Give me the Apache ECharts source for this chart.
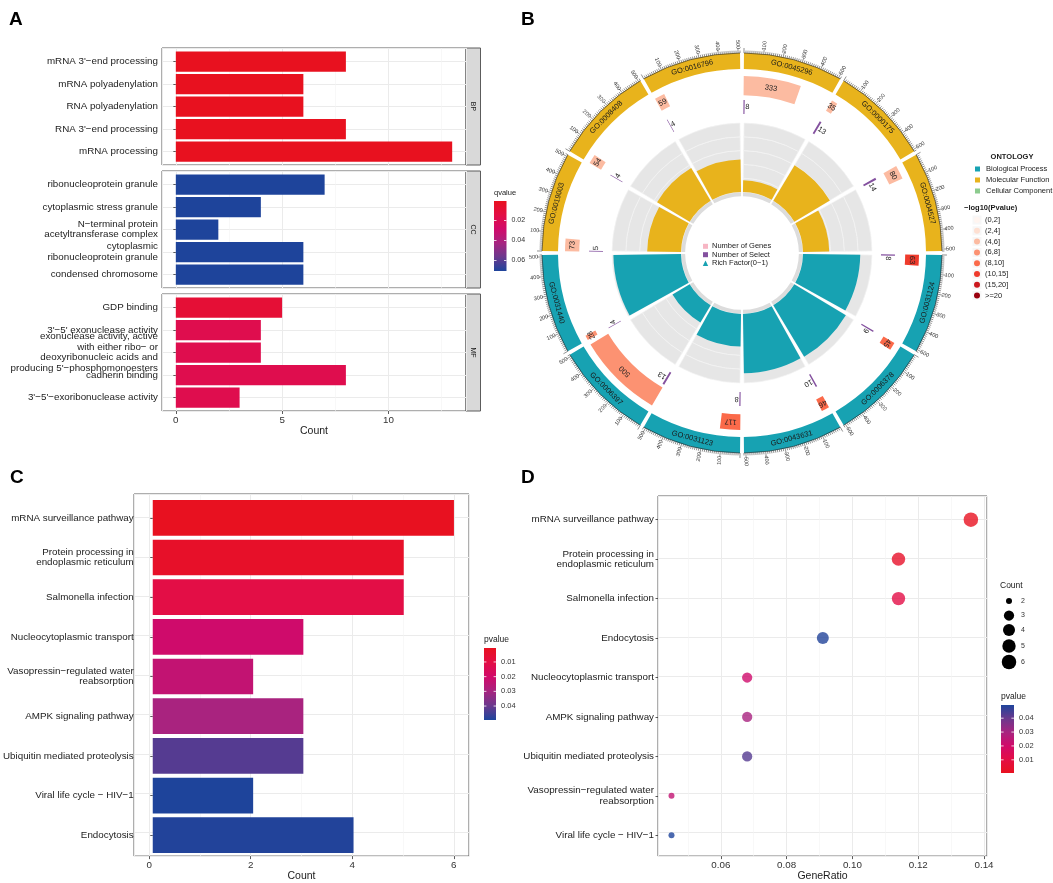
<!DOCTYPE html>
<html>
<head>
<meta charset="utf-8">
<title>Enrichment panels</title>
<script src="https://cdn.jsdelivr.net/npm/echarts@6.0.0/dist/echarts.min.js"></script>
<style>
html,body{margin:0;padding:0;background:#ffffff;}
#chart{width:1053px;height:883px;}
</style>
</head>
<body>
<div id="chart"></div>
<script>
// ================= DATA =================
// ---- Panel A (GO bar chart, faceted) ----
const aFacetNames = ["BP", "CC", "MF"];
const aBPTerms = ["mRNA 3'−end processing", "mRNA polyadenylation", "RNA polyadenylation", "RNA 3'−end processing", "mRNA processing"];
const aBPCounts = [8, 6, 6, 8, 13];
const aBPQvalues = [0.0006, 0.0006, 0.0006, 0.0006, 0.0005];
const aCCTerms = ["ribonucleoprotein granule", "cytoplasmic stress granule", "N−terminal protein\nacetyltransferase complex", "cytoplasmic\nribonucleoprotein granule", "condensed chromosome"];
const aCCCounts = [7, 4, 2, 6, 6];
const aCCQvalues = [0.0705, 0.0705, 0.0705, 0.0705, 0.0705];
const aMFTerms = ["GDP binding", "3'−5' exonuclease activity", "exonuclease activity, active\nwith either ribo− or\ndeoxyribonucleic acids and\nproducing 5'−phosphomonoesters", "cadherin binding", "3'−5'−exoribonuclease activity"];
const aMFCounts = [5, 4, 4, 8, 3];
const aMFQvalues = [0.009, 0.018, 0.018, 0.018, 0.018];
const aQRange = [0.0005, 0.0705];
const aQTicks = [0.02, 0.04, 0.06];

// ---- Panel B (GO circle) ---- clockwise from 12 o'clock
const bGoIds = ["GO:0045296", "GO:0000175", "GO:0004527", "GO:0031124", "GO:0006378", "GO:0043631", "GO:0031123", "GO:0006397", "GO:0031440", "GO:0019003", "GO:0008408", "GO:0016796"];
const bOntology = ["MF", "MF", "MF", "BP", "BP", "BP", "BP", "BP", "BP", "MF", "MF", "MF"];
const bNumGenes = [333, 35, 80, 63, 45, 46, 117, 500, 28, 73, 54, 59];
const bNumSelect = [8, 13, 14, 8, 9, 10, 8, 13, 4, 5, 4, 4];
const bRichFactor = [0.17, 0.60, 0.38, 0.83, 0.87, 0.86, 0.47, 0.29, 0.98, 0.49, 0.55, 0.47];
const bPBin = [2, 2, 2, 5, 4, 4, 4, 3, 3, 2, 2, 2];
const bTickLabels = [100, 200, 300, 400, 500];
const bOntologyNames = ["Biological Process", "Molecular Function", "Cellular Component"];
const bPBinNames = ["(0,2]", "(2,4]", "(4,6]", "(6,8]", "(8,10]", "(10,15]", "(15,20]", ">=20"];
const bInnerLegend = ["Number of Genes", "Number of Select", "Rich Factor(0−1)"];

// ---- Panel C (KEGG bar chart) ----
const cTerms = ["mRNA surveillance pathway", "Protein processing in\nendoplasmic reticulum", "Salmonella infection", "Nucleocytoplasmic transport", "Vasopressin−regulated water\nreabsorption", "AMPK signaling pathway", "Ubiquitin mediated proteolysis", "Viral life cycle − HIV−1", "Endocytosis"];
const cCounts = [6, 5, 5, 3, 2, 3, 3, 2, 4];
const cPvalues = [0.0008, 0.003, 0.0105, 0.0205, 0.0235, 0.0295, 0.0425, 0.0495, 0.049];
const cPTicks = [0.01, 0.02, 0.03, 0.04];

// ---- Panel D (KEGG dot plot) ----
const dTerms = ["mRNA surveillance pathway", "Protein processing in\nendoplasmic reticulum", "Salmonella infection", "Endocytosis", "Nucleocytoplasmic transport", "AMPK signaling pathway", "Ubiquitin mediated proteolysis", "Vasopressin−regulated water\nreabsorption", "Viral life cycle − HIV−1"];
const dGeneRatio = [0.136, 0.114, 0.114, 0.091, 0.068, 0.068, 0.068, 0.045, 0.045];
const dCounts = [6, 5, 5, 4, 3, 3, 3, 2, 2];
const dPvalues = [0.0008, 0.003, 0.0105, 0.049, 0.0205, 0.0295, 0.0425, 0.0235, 0.0495];
const dCountLegend = [2, 3, 4, 5, 6];
const pRange = [0.0005, 0.0495];

// ================= STYLE =================
const FF = "'Liberation Sans', Arial, Helvetica, sans-serif";
const gradColors = ['#E8111F', '#E30E45', '#D10A6A', '#A72480', '#6B388D', '#1E449B'];
const ontColors = { BP: '#17A2B2', MF: '#E8B31C', CC: '#8CCB8E' };
const ontLegendColors = [ontColors.BP, ontColors.MF, ontColors.CC];
const pBinColors = ['#FFF5F0', '#FEE0D2', '#FCBBA1', '#FC9272', '#FB6A4A', '#EF3B2C', '#CB181D', '#99000D'];
const selectColor = '#84519F';
const genesLegendColor = '#F7B6C4';

const chart = echarts.init(document.getElementById('chart'), null, { renderer: 'canvas', width: 1053, height: 883 });

const grids = [], xAxis = [], yAxis = [], series = [], visualMap = [], graphics = [];

function txtG(x, y, text, size, opts) {
  opts = opts || {};
  const align = opts.align || 'left';
  const va = opts.va || 'middle';
  return {
    type: 'text', x: x, y: y, rotation: opts.rot || 0, silent: true,
    style: {
      text: text, font: (opts.bold ? 'bold ' : '') + size + 'px ' + FF, fill: opts.color || '#1a1a1a',
      align: align, textAlign: align, verticalAlign: va, textVerticalAlign: va
    }
  };
}

// ---- generic ggplot-like panel: frame grid (border + gridlines + x axis) and data grid (categories) ----
function addPanel(o) {
  const n = o.cats.length;
  const gf = grids.length;
  grids.push({ left: o.left, top: o.top, width: o.width, height: o.height, show: true, borderColor: '#5c5c5c', borderWidth: 1, backgroundColor: 'rgba(0,0,0,0)' });
  xAxis.push({
    gridIndex: gf, type: 'value', position: 'top', min: o.xMin, max: o.xMax, minInterval: o.minor, maxInterval: o.minor,
    axisLine: { show: false }, axisTick: { show: false }, axisLabel: { show: false },
    splitLine: { show: true, lineStyle: { color: '#F3F3F3', width: 0.6 } }
  });
  xAxis.push({
    gridIndex: gf, type: 'value', position: 'bottom', min: o.xMin, max: o.xMax, minInterval: o.major, maxInterval: o.major,
    axisLine: { show: false },
    axisTick: { show: o.showX, length: 3, lineStyle: { color: '#333', width: 0.8 } },
    axisLabel: { show: o.showX, showMinLabel: false, showMaxLabel: false, margin: 4, fontSize: o.fs, fontFamily: FF, color: '#333', formatter: o.fmt },
    splitLine: { show: true, lineStyle: { color: '#EBEBEB', width: 1 } },
    name: o.showX ? o.xName : '', nameLocation: 'middle', nameGap: o.nameGap || 14,
    nameTextStyle: { fontSize: o.nameFs || 10.5, fontFamily: FF, color: '#1a1a1a' }
  });
  yAxis.push({
    gridIndex: gf, type: 'value', inverse: true, min: 0.4, max: n + 0.6, minInterval: 1, maxInterval: 1,
    axisLine: { show: false }, axisTick: { show: false }, axisLabel: { show: false },
    splitLine: { show: true, lineStyle: { color: '#EBEBEB', width: 1 } }
  });
  const unit = o.height / (n + 0.2), pad = unit * 0.1;
  const gd = grids.length;
  grids.push({ left: o.left, top: o.top + pad, width: o.width, height: o.height - 2 * pad, show: false });
  const xd = xAxis.length;
  xAxis.push({ gridIndex: gd, type: 'value', min: o.xMin, max: o.xMax, show: false });
  const yd = yAxis.length;
  yAxis.push({
    gridIndex: gd, type: 'category', inverse: true, data: o.cats,
    axisLine: { show: false },
    axisTick: { show: true, alignWithLabel: true, length: 2.5, lineStyle: { color: '#333', width: 0.8 } },
    axisLabel: { interval: 0, margin: 4, fontSize: o.fs, lineHeight: o.lh || 10.5, fontFamily: FF, color: '#222' },
    splitLine: { show: false }
  });
  return { xd: xd, yd: yd };
}

// ================= PANEL A =================
const aLeft = 162, aWidth = 304;
const aFacetTops = [48, 171, 294];
const aFacetH = 117;
const aFacetTerms = [aBPTerms, aCCTerms, aMFTerms];
const aFacetCounts = [aBPCounts, aCCCounts, aMFCounts];
const aFacetQ = [aBPQvalues, aCCQvalues, aMFQvalues];
const aSeriesIdx = [];
aFacetNames.forEach(function (name, f) {
  const ax = addPanel({
    left: aLeft, top: aFacetTops[f], width: aWidth, height: aFacetH, xMin: -0.65, xMax: 13.65, major: 5, minor: 2.5,
    cats: aFacetTerms[f], showX: f === 2, xName: 'Count', nameGap: 15, fs: 9.8, lh: 10.5
  });
  aSeriesIdx.push(series.length);
  series.push({
    type: 'bar', xAxisIndex: ax.xd, yAxisIndex: ax.yd, barWidth: '90%', silent: true,
    encode: { x: 0, y: 1 },
    data: aFacetCounts[f].map(function (c, i) { return [c, i, aFacetQ[f][i]]; })
  });
  // facet strip
  graphics.push({ type: 'rect', shape: { x: aLeft + aWidth, y: aFacetTops[f], width: 14.5, height: aFacetH }, style: { fill: '#D9D9D9', stroke: '#5c5c5c', lineWidth: 1 }, silent: true });
  graphics.push(txtG(aLeft + aWidth + 7.25, aFacetTops[f] + aFacetH / 2, name, 7, { align: 'center', rot: -Math.PI / 2 }));
});
visualMap.push({ type: 'continuous', show: false, seriesIndex: aSeriesIdx, dimension: 2, min: aQRange[0], max: aQRange[1], inRange: { color: gradColors } });

// colorbar legend helper
function colorbar(x, y, w, h, title, range, ticks, highOnTop, fs, titleFs) {
  const n = gradColors.length;
  let stops = gradColors.map(function (c, i) { return { offset: i / (n - 1), color: c }; });
  if (highOnTop) stops = gradColors.slice().reverse().map(function (c, i) { return { offset: i / (n - 1), color: c }; });
  graphics.push(txtG(x, y - 4, title, titleFs, { va: 'bottom', color: '#1a1a1a' }));
  graphics.push({ type: 'rect', shape: { x: x, y: y, width: w, height: h }, style: { fill: { type: 'linear', x: 0, y: 0, x2: 0, y2: 1, colorStops: stops } }, silent: true });
  ticks.forEach(function (v) {
    const frac = (v - range[0]) / (range[1] - range[0]);
    const ty = highOnTop ? y + (1 - frac) * h : y + frac * h;
    graphics.push({ type: 'line', shape: { x1: x, y1: ty, x2: x + w * 0.2, y2: ty }, style: { stroke: '#ffffff', lineWidth: 0.8 }, silent: true });
    graphics.push({ type: 'line', shape: { x1: x + w * 0.8, y1: ty, x2: x + w, y2: ty }, style: { stroke: '#ffffff', lineWidth: 0.8 }, silent: true });
    graphics.push(txtG(x + w + 5, ty, String(v), fs, { color: '#333' }));
  });
}
colorbar(494, 201, 12.5, 70, 'qvalue', aQRange, aQTicks, false, 7, 7.5);

// ================= PANEL C =================
const cAx = addPanel({
  left: 134, top: 494, width: 335, height: 365, xMin: -0.3, xMax: 6.3, major: 2, minor: 1,
  cats: cTerms, showX: true, xName: 'Count', nameGap: 13, fs: 9.8, lh: 10.5
});
const cSeries = series.length;
series.push({
  type: 'bar', xAxisIndex: cAx.xd, yAxisIndex: cAx.yd, barWidth: '90%', silent: true, encode: { x: 0, y: 1 },
  data: cCounts.map(function (c, i) { return [c, i, cPvalues[i]]; })
});
visualMap.push({ type: 'continuous', show: false, seriesIndex: [cSeries], dimension: 2, min: pRange[0], max: pRange[1], inRange: { color: gradColors } });
colorbar(484, 648, 12, 72, 'pvalue', pRange, cPTicks, false, 7.5, 8.5);

// ================= PANEL D =================
function dotSize(count) { return 6 + 8.5 * Math.sqrt((count - 2) / 4); }
const dAx = addPanel({
  left: 658, top: 496, width: 329, height: 363, xMin: 0.0409, xMax: 0.1409, major: 0.02, minor: 0.01,
  cats: dTerms, showX: true, xName: 'GeneRatio', nameGap: 13, fs: 9.8, lh: 10.5,
  fmt: function (v) { return v.toFixed(2); }
});
const dSeries = series.length;
series.push({
  type: 'scatter', xAxisIndex: dAx.xd, yAxisIndex: dAx.yd, silent: true, encode: { x: 0, y: 1 },
  symbolSize: function (v) { return dotSize(v[2]); },
  data: dGeneRatio.map(function (r, i) { return [r, i, dCounts[i], dPvalues[i]]; })
});
visualMap.push({ type: 'continuous', show: false, seriesIndex: [dSeries], dimension: 3, min: pRange[0], max: pRange[1], inRange: { color: gradColors } });
// size legend
graphics.push(txtG(1000, 586, 'Count', 8.5, {}));
const dLegY = [601, 615.5, 630, 646, 662];
dCountLegend.forEach(function (c, i) {
  graphics.push({ type: 'circle', shape: { cx: 1009, cy: dLegY[i], r: dotSize(c) / 2 }, style: { fill: '#000' }, silent: true });
  graphics.push(txtG(1021, dLegY[i], String(c), 7, { color: '#333' }));
});
colorbar(1001, 705, 13, 68, 'pvalue', pRange, cPTicks.slice().reverse(), true, 7.5, 8.5);

// ================= PANEL B =================
const bCx = 742, bCy = 253;
const SEC = 530, OFF = 10, LEN = 510, TOT = SEC * 12, RICH_INSET = 6;
const polarRadii = [[184, 200], [154, 177], [139, 153], [61, 130], [200, 205], [204, 213]];
const polar = polarRadii.map(function (r) { return { center: [bCx, bCy], radius: r }; });
const angleAxis = polarRadii.map(function (r, i) { return { polarIndex: i, type: 'value', min: 0, max: TOT, startAngle: 90, clockwise: true, show: false }; });
const radiusAxis = polarRadii.map(function (r, i) {
  return i === 1 ? { polarIndex: i, type: 'log', min: 1, max: 1000, inverse: true, show: false }
                 : { polarIndex: i, type: 'value', min: 0, max: 1, show: false };
});

function G(params, api, rv, av) {
  const p = api.coord([rv, av]);
  const cs = params.coordSys;
  const dx = p[0] - cs.cx, dy = p[1] - cs.cy;
  let th = Math.atan2(dx, -dy); if (th < 0) th += 2 * Math.PI;
  return { x: p[0], y: p[1], r: Math.sqrt(dx * dx + dy * dy), ang: Math.atan2(dy, dx), th: th, cx: cs.cx, cy: cs.cy };
}
function arcSector(params, api, rv0, rv1, av0, av1, style) {
  const a = G(params, api, rv0, av0), b = G(params, api, rv1, av1);
  let s = a.ang, e = b.ang;
  while (e < s - 1e-9) e += 2 * Math.PI;
  return { type: 'sector', shape: { cx: a.cx, cy: a.cy, r0: Math.min(a.r, b.r), r: Math.max(a.r, b.r), startAngle: s, endAngle: e, clockwise: true }, style: style };
}
function tanRot(th, flip) { if (flip && th > Math.PI / 2 && th < 1.5 * Math.PI) return Math.PI - th; return -th; }
function radRot(th) { return th < Math.PI ? Math.PI / 2 - th : 1.5 * Math.PI - th; }
function ptxt(pt, rot, text, size, color, align, bold) {
  return { type: 'text', x: pt.x, y: pt.y, rotation: rot, style: { text: text, font: (bold ? 'bold ' : '') + size + 'px ' + FF, fill: color, align: align, textAlign: align, verticalAlign: 'middle', textVerticalAlign: 'middle' } };
}
const sectorData = bGoIds.map(function (g, k) { return [0.5, k * SEC + OFF + LEN / 2, k]; });
const sectorDataLog = bGoIds.map(function (g, k) { return [10, k * SEC + OFF + LEN / 2, k]; });

// rich factor ring (grey background + ontology coloured bars)
series.push({
  type: 'custom', coordinateSystem: 'polar', polarIndex: 3, silent: true, data: sectorData,
  renderItem: function (params, api) {
    const k = api.value(2); const a0 = k * SEC + OFF - RICH_INSET, a1 = k * SEC + OFF + LEN + RICH_INSET;
    const b0 = k * SEC + OFF + RICH_INSET, b1 = k * SEC + OFF + LEN - RICH_INSET;
    const ch = [arcSector(params, api, -0.06, 0, b0, b1, { fill: '#DCDCDC' })];
    for (let j = 0; j < 5; j++) ch.push(arcSector(params, api, j / 5, (j + 1) / 5, b0, b1, { fill: '#E6E6E6', stroke: '#F3F3F3', lineWidth: 0.7 }));
    ch.push(arcSector(params, api, 0, bRichFactor[k], b0, b1, { fill: ontColors[bOntology[k]] }));
    return { type: 'group', children: ch };
  }
});
// outer ontology band with GO ids
series.push({
  type: 'custom', coordinateSystem: 'polar', polarIndex: 0, silent: true, data: sectorData,
  renderItem: function (params, api) {
    const k = api.value(2); const a0 = k * SEC + OFF;
    const m = G(params, api, 0.5, a0 + LEN / 2);
    return { type: 'group', children: [
      arcSector(params, api, 0, 1, a0, a0 + LEN, { fill: ontColors[bOntology[k]] }),
      ptxt(m, tanRot(m.th, true), bGoIds[k], 7.5, '#1a1a1a', 'center')
    ] };
  }
});
// number of genes track
series.push({
  type: 'custom', coordinateSystem: 'polar', polarIndex: 1, silent: true, data: sectorDataLog,
  renderItem: function (params, api) {
    const k = api.value(2); const a0 = k * SEC + OFF; const n = bNumGenes[k];
    const m = G(params, api, Math.sqrt(n), a0 + n / 2);
    return { type: 'group', children: [
      arcSector(params, api, 1, n, a0, a0 + n, { fill: pBinColors[bPBin[k]] }),
      ptxt(m, tanRot(m.th, false), String(n), 7.5, '#222', 'center')
    ] };
  }
});
// number of select track
series.push({
  type: 'custom', coordinateSystem: 'polar', polarIndex: 2, silent: true, data: sectorData,
  renderItem: function (params, api) {
    const k = api.value(2); const a0 = k * SEC + OFF; const s = bNumSelect[k];
    const m = G(params, api, 0.5, a0 + s + 4);
    return { type: 'group', children: [
      arcSector(params, api, 0, 1, a0, a0 + s, { fill: selectColor }),
      ptxt(m, tanRot(m.th, false), String(s), 7.5, '#222', 'left')
    ] };
  }
});
// tick marks
series.push({
  type: 'custom', coordinateSystem: 'polar', polarIndex: 4, silent: true, data: sectorData,
  renderItem: function (params, api) {
    const k = api.value(2); const a0 = k * SEC + OFF;
    const s = G(params, api, 0, a0), e = G(params, api, 0, a0 + LEN);
    let ea = e.ang; while (ea < s.ang) ea += 2 * Math.PI;
    const ch = [{ type: 'arc', shape: { cx: s.cx, cy: s.cy, r: s.r, startAngle: s.ang, endAngle: ea, clockwise: true }, style: { stroke: '#222', lineWidth: 0.6, fill: 'none' } }];
    for (let t = 0; t <= LEN; t += 10) {
      const p0 = G(params, api, 0, a0 + t), p1 = G(params, api, t % 100 === 0 ? 1 : 0.5, a0 + t);
      ch.push({ type: 'line', shape: { x1: p0.x, y1: p0.y, x2: p1.x, y2: p1.y }, style: { stroke: '#222', lineWidth: 0.5 } });
    }
    return { type: 'group', children: ch };
  }
});
// tick labels
series.push({
  type: 'custom', coordinateSystem: 'polar', polarIndex: 5, silent: true, data: sectorData,
  renderItem: function (params, api) {
    const k = api.value(2); const a0 = k * SEC + OFF;
    const ch = bTickLabels.map(function (v) {
      const p = G(params, api, 0.5, a0 + v);
      return ptxt(p, radRot(p.th), String(v), 5.5, '#333', 'center');
    });
    return { type: 'group', children: ch };
  }
});

// inner legend
const innerY = [246.3, 254.7, 263.3];
graphics.push({ type: 'rect', shape: { x: 703, y: innerY[0] - 2.5, width: 5, height: 5 }, style: { fill: genesLegendColor }, silent: true });
graphics.push({ type: 'rect', shape: { x: 703, y: innerY[1] - 2.5, width: 5, height: 5 }, style: { fill: selectColor }, silent: true });
graphics.push({ type: 'polygon', shape: { points: [[702.8, innerY[2] + 2.6], [708.2, innerY[2] + 2.6], [705.5, innerY[2] - 2.8]] }, style: { fill: ontColors.BP }, silent: true });
bInnerLegend.forEach(function (t, i) { graphics.push(txtG(712, innerY[i], t, 7.5, { color: '#222' })); });

// right legend
graphics.push(txtG(1012, 157, 'ONTOLOGY', 7.5, { align: 'center', bold: true }));
const ontY = [169, 180, 191];
bOntologyNames.forEach(function (t, i) {
  graphics.push({ type: 'rect', shape: { x: 975, y: ontY[i] - 2.5, width: 5, height: 5 }, style: { fill: ontLegendColors[i] }, silent: true });
  graphics.push(txtG(986, ontY[i], t, 7.5, { color: '#222' }));
});
graphics.push(txtG(964, 208, '−log10(Pvalue)', 7.5, { bold: true }));
bPBinNames.forEach(function (t, i) {
  const y = 220 + i * 10.8;
  graphics.push({ type: 'rect', shape: { x: 972.5, y: y - 4.5, width: 9, height: 9 }, style: { fill: '#F7F7F7' }, silent: true });
  graphics.push({ type: 'circle', shape: { cx: 977, cy: y, r: 3 }, style: { fill: pBinColors[i] }, silent: true });
  graphics.push(txtG(985, y, t, 7.5, { color: '#222' }));
});

// panel letters
graphics.push(txtG(9, 19.5, 'A', 19, { bold: true, color: '#000' }));
graphics.push(txtG(521, 19.5, 'B', 19, { bold: true, color: '#000' }));
graphics.push(txtG(10, 477.5, 'C', 19, { bold: true, color: '#000' }));
graphics.push(txtG(521, 477.5, 'D', 19, { bold: true, color: '#000' }));

chart.setOption({
  animation: false,
  backgroundColor: '#ffffff',
  textStyle: { fontFamily: FF },
  grid: grids, xAxis: xAxis, yAxis: yAxis,
  polar: polar, angleAxis: angleAxis, radiusAxis: radiusAxis,
  visualMap: visualMap,
  series: series,
  graphic: { elements: graphics }
});
</script>
</body>
</html>
